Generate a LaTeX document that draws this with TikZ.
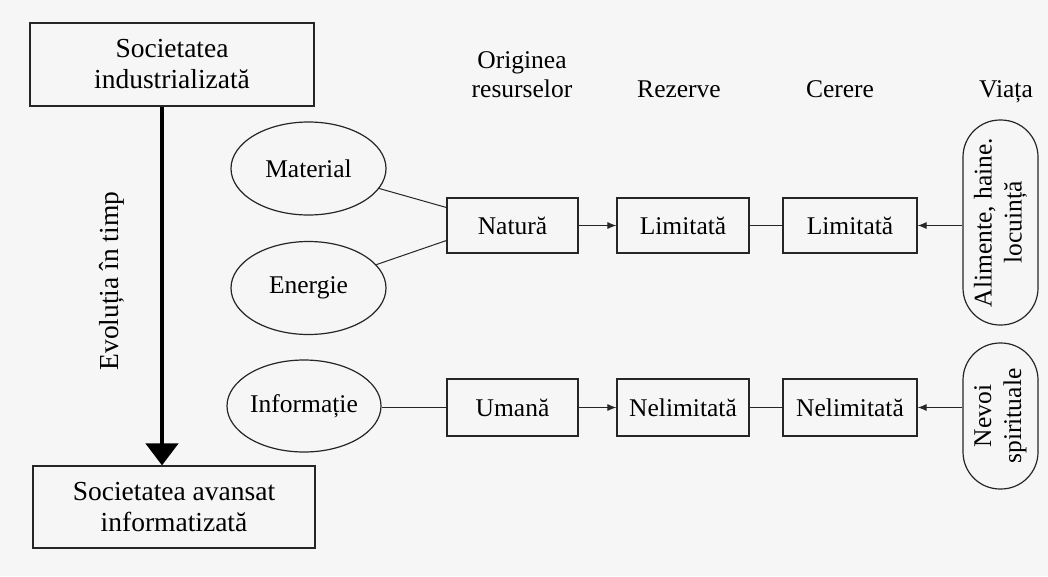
\documentclass[tikz,border=0pt]{standalone}
\usepackage{fontspec}
\setmainfont{Liberation Serif}
\usetikzlibrary{arrows.meta,shapes.geometric,calc}
\begin{document}
\begin{tikzpicture}[x=1pt,y=-1pt,
  every node/.style={font=\fontsize{25.5}{29}\selectfont, inner sep=0pt, text=black},
  bigtxt/.style={font=\fontsize{27.5}{31}\selectfont},
  rbox/.style={draw=black!85, line width=1.2pt, rectangle, align=center},
  oval/.style={draw=black!85, line width=1.2pt, ellipse},
  pill/.style={draw=black!85, line width=1.2pt, rectangle, rounded corners=37pt, align=center},
  link/.style={draw=black!85, line width=1pt},
  arr/.style={draw=black!85, line width=1pt, -{Latex[length=9pt,width=7pt]}},
  bigarr/.style={draw=black, line width=4.5pt, -{Triangle[length=22pt,width=32pt]}},
  hdr/.style={anchor=base, align=center}]

\path[fill=gray!7] (0,0) rectangle (1048,576);

% left column
\node[rbox,bigtxt,minimum width=284pt,minimum height=83pt] (top) at (172,64.5) {Societatea\\industrializată};
\node[rbox,bigtxt,minimum width=282pt,minimum height=82pt] (bot) at (174,507) {Societatea avansat\\informatizată};
\node[bigtxt,rotate=90] (evo) at (112,281) {Evoluția în timp};
\coordinate (ax) at (162,0);
\draw[bigarr] (top.south -| ax) -- (bot.north -| ax);

% headers
\node[hdr] (h1) at (522,97) {Originea\\resurselor};
\node[hdr] (h2) at (679,97) {Rezerve};
\node[hdr] (h3) at (840,97) {Cerere};
\node[hdr] (h4) at (1006,97) {Viața};

% ellipses
\node[oval,minimum width=155pt,minimum height=93pt] (mat) at (308.5,168.5) {Material};
\node[oval,minimum width=155pt,minimum height=93pt] (ene) at (308.5,288) {Energie};
\node[oval,minimum width=154pt,minimum height=92pt] (inf) at (304,406) {Informație};

% row 1
\node[rbox,minimum width=131pt,minimum height=55pt] (nat) at (512.5,225.5) {Natură};
\node[rbox,minimum width=132pt,minimum height=55pt] (lim1) at (683,225.5) {Limitată};
\node[rbox,minimum width=134pt,minimum height=55pt] (lim2) at (850,225.5) {Limitată};

% row 2
\node[rbox,minimum width=131pt,minimum height=57pt] (uma) at (512.5,407.5) {Umană};
\node[rbox,minimum width=132pt,minimum height=57pt] (nel1) at (683,407.5) {Nelimitată};
\node[rbox,minimum width=134pt,minimum height=57pt] (nel2) at (850,407.5) {Nelimitată};

% right pills
\node[pill,rotate=90,minimum width=205pt,minimum height=75pt,font=\fontsize{25.5}{30}\selectfont] (ali) at (1000.5,222.5) {Alimente, haine.\\locuință};
\node[pill,rotate=90,minimum width=146pt,minimum height=75pt,font=\fontsize{25.5}{30}\selectfont] (nev) at (1000.5,416) {Nevoi\\spirituale};

% connectors
\coordinate (natA) at ($(nat.west)+(0,-18)$);
\coordinate (natB) at ($(nat.west)+(0,15)$);
\draw[link] (mat) -- (natA);
\draw[link] (ene) -- (natB);
\draw[arr] (nat.east) -- (lim1.west);
\draw[link] (lim1.east) -- (lim2.west);
\draw[arr] (ali.north |- lim2.east) -- (lim2.east);

\draw[link] (inf.east |- uma.west) -- (uma.west);
\draw[arr] (uma.east) -- (nel1.west);
\draw[link] (nel1.east) -- (nel2.west);
\draw[arr] (nev.north |- nel2.east) -- (nel2.east);
\end{tikzpicture}
\end{document}
